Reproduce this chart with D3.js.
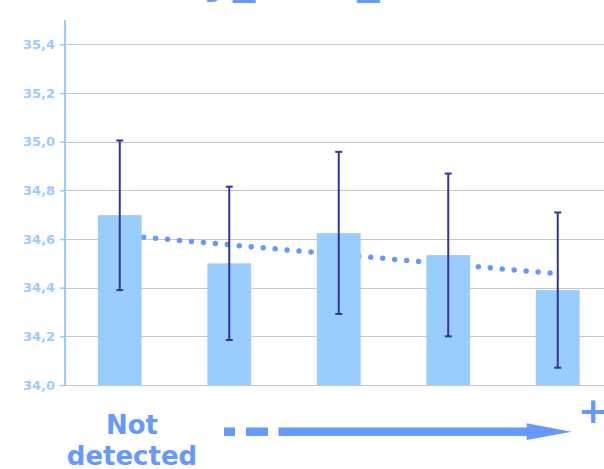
<!DOCTYPE html>
<html>
<head>
<meta charset="utf-8">
<script src="https://cdn.jsdelivr.net/npm/d3@7"></script>
<style>
  html, body { margin: 0; padding: 0; background: #fff; }
  svg { display: block; }
</style>
</head>
<body>
<div class="chart_area"></div>
<script>
// data
var categories = ["1", "2", "3", "4", "5"];
var means = [34.698, 34.50, 34.624, 34.534, 34.39];
var errHigh = [35.005, 34.815, 34.958, 34.869, 34.709];
var errLow = [34.39, 34.185, 34.292, 34.20, 34.071];
var trendEnds = [34.616, 34.457];
var yTicks = [34.0, 34.2, 34.4, 34.6, 34.8, 35.0, 35.2, 35.4];
var titleText = "Body_size_index";
var lowLabel = ["Not", "detected"];
var highLabel = "+";

var W = 604, H = 469;
var plot = { left: 65, right: 612.5, top: 20, bottom: 385 };

var barColor = "#99ccff",
    errColor = "#333399",
    accent = "#6699ff",
    gridColor = "#c6c6c6";

var svg = d3.select(".chart_area")
    .append("svg")
    .attr("width", W)
    .attr("height", H);

var x = d3.scaleBand()
    .domain(categories)
    .range([plot.left, plot.right])
    .paddingInner(0.6)
    .paddingOuter(0.3);

var y = d3.scaleLinear()
    .domain([34.0, 35.5])
    .range([plot.bottom, plot.top]);

var fmt = function (d) { return d3.format(".1f")(d).replace(".", ","); };

// title, mostly above the top edge
svg.append("text")
    .attr("x", 103)
    .attr("y", -8)
    .style("font-family", "DejaVu Sans")
    .style("font-weight", "bold")
    .style("font-size", "46px")
    .style("fill", accent)
    .text(titleText);

// gridlines
svg.append("g")
    .selectAll("line")
    .data(yTicks)
    .enter()
    .append("line")
    .attr("x1", plot.left)
    .attr("x2", W)
    .attr("y1", function (d) { return Math.round(y(d)) + 0.5; })
    .attr("y2", function (d) { return Math.round(y(d)) + 0.5; })
    .style("stroke", gridColor)
    .style("stroke-width", 1);

// dotted trend line, sits behind the bars
svg.append("line")
    .attr("x1", x(categories[0]) + x.bandwidth() / 2)
    .attr("x2", x(categories[categories.length - 1]) + x.bandwidth() / 2)
    .attr("y1", y(trendEnds[0]))
    .attr("y2", y(trendEnds[1]))
    .style("stroke", accent)
    .style("stroke-width", 5.5)
    .style("stroke-linecap", "round")
    .style("stroke-dasharray", "0,12");

// bars
svg.selectAll(".bar_rect")
    .data(means)
    .enter()
    .append("rect")
    .attr("class", "bar_rect")
    .attr("x", function (d, i) { return x(categories[i]); })
    .attr("y", function (d) { return y(d); })
    .attr("width", x.bandwidth())
    .attr("height", function (d) { return y(34.0) - y(d); })
    .attr("fill", barColor);

// error bars
var eb = svg.append("g")
    .selectAll("g")
    .data(categories)
    .enter()
    .append("g")
    .style("stroke", errColor)
    .style("stroke-width", 2);

eb.append("line")
    .attr("x1", function (d) { return x(d) + x.bandwidth() / 2; })
    .attr("x2", function (d) { return x(d) + x.bandwidth() / 2; })
    .attr("y1", function (d, i) { return y(errHigh[i]); })
    .attr("y2", function (d, i) { return y(errLow[i]); });

eb.append("line")
    .attr("x1", function (d) { return x(d) + x.bandwidth() / 2 - 3.5; })
    .attr("x2", function (d) { return x(d) + x.bandwidth() / 2 + 3.5; })
    .attr("y1", function (d, i) { return y(errHigh[i]); })
    .attr("y2", function (d, i) { return y(errHigh[i]); });

eb.append("line")
    .attr("x1", function (d) { return x(d) + x.bandwidth() / 2 - 3.5; })
    .attr("x2", function (d) { return x(d) + x.bandwidth() / 2 + 3.5; })
    .attr("y1", function (d, i) { return y(errLow[i]); })
    .attr("y2", function (d, i) { return y(errLow[i]); });

// y axis
var y_axis = svg.append("g")
    .attr("class", "y-axis")
    .attr("transform", "translate(" + plot.left + ",0)")
    .call(d3.axisLeft(y).tickValues(yTicks).tickFormat(fmt).tickSize(5).tickPadding(5));

y_axis.select(".domain")
    .attr("d", "M0," + plot.top + "V" + plot.bottom)
    .style("stroke", barColor)
    .style("stroke-width", 2);

y_axis.selectAll("line")
    .style("stroke", barColor)
    .style("stroke-width", 1.5);

y_axis.selectAll("text")
    .style("fill", barColor)
    .style("font-family", "DejaVu Sans")
    .style("font-weight", "bold")
    .style("font-size", "13px");

// bottom annotation: Not detected -> +
var note = svg.append("g")
    .style("font-family", "DejaVu Sans")
    .style("font-weight", "bold")
    .style("fill", accent);

note.selectAll("text.low")
    .data(lowLabel)
    .enter()
    .append("text")
    .attr("class", "low")
    .attr("x", 132)
    .attr("y", function (d, i) { return 434 + i * 31; })
    .attr("text-anchor", "middle")
    .style("font-size", "26px")
    .text(function (d) { return d; });

note.append("text")
    .attr("x", 593)
    .attr("y", 423)
    .attr("text-anchor", "middle")
    .style("font-size", "36px")
    .text(highLabel);

var ay = 431.7, ah = 8.5;
note.append("rect").attr("x", 224).attr("y", ay - ah / 2).attr("width", 11).attr("height", ah);
note.append("rect").attr("x", 246).attr("y", ay - ah / 2).attr("width", 22).attr("height", ah);
note.append("rect").attr("x", 278.5).attr("y", ay - ah / 2).attr("width", 250).attr("height", ah);
note.append("path")
    .attr("d", "M526.7," + (ay - 8.4) + "L571.7," + ay + "L526.7," + (ay + 8.4) + "Z");
</script>
</body>
</html>
